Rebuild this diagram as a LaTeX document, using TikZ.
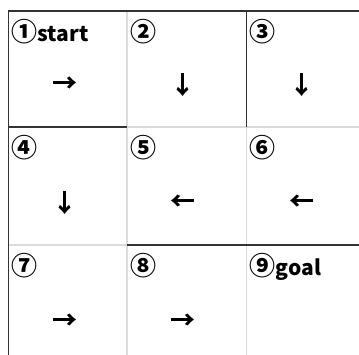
\documentclass[tikz,border=0pt]{standalone}
\usepackage{fontspec}
\newfontfamily\jpfont{Noto Sans CJK JP}
\newcommand\cellno[1]{{\fontsize{26}{26}\selectfont#1}}
\usetikzlibrary{positioning}

\begin{document}
\begin{tikzpicture}[x=1pt,y=-1pt]
\tikzset{wall/.style={line width=1.6pt,draw=black!80},
open/.style={line width=1.6pt,draw=black!14},
tag/.style={anchor=base west,inner sep=0pt,font=\jpfont\bfseries\fontsize{21}{21}\selectfont},
move/.style={inner sep=0pt,font=\jpfont\bfseries\fontsize{25}{25}\selectfont}}
\useasboundingbox (0,0) rectangle (359,355);
% open sides
\draw[open] (127,11)--(127,355);
\draw[open] (246.5,127)--(246.5,355);
\draw[open] (127,127)--(359,127);
\draw[open] (8.5,245)--(127,245);
% walls
\draw[wall] (359,11)--(8.5,11)--(8.5,355);
\draw[wall] (246.5,11)--(246.5,127);
\draw[wall] (8.5,127)--(127,127);
\draw[wall] (127,245)--(359,245);
% cell numbers
\foreach \n/\x/\y/\t in {1/11.5/42/{\cellno{①}start},2/130/42/\cellno{②},3/249.5/42/\cellno{③},
  4/11.5/158/\cellno{④},5/130/158/\cellno{⑤},6/249.5/158/\cellno{⑥},
  7/11.5/276/\cellno{⑦},8/130/276/\cellno{⑧},9/249.5/276/{\cellno{⑨}goal}}
  \node[tag] (t\n) at (\x,\y){\t};
% moves
\node[move] (m1) at (64.5,85){→};
\node[move] (m2) at (183,85){↓};
\node[move] (m3) at (302,85){↓};
\node[move] (m4) at (64.5,203){↓};
\node[move] (m5) at (183,203){←};
\node[move] (m6) at (302,203){←};
\node[move] (m7) at (64.5,322){→};
\node[move] (m8) at (183,322){→};
\end{tikzpicture}
\end{document}
